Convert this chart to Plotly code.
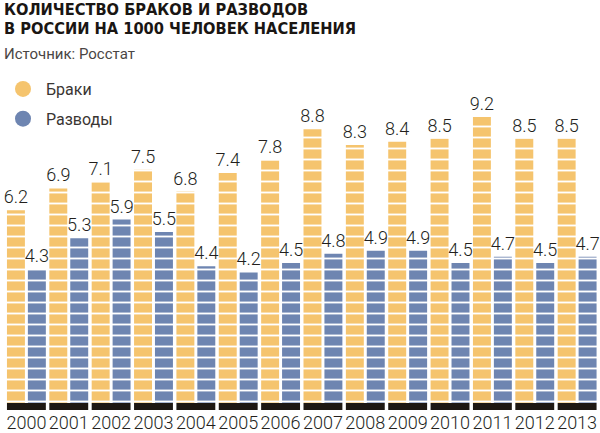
import plotly.graph_objects as go

YEARS = list(range(2000, 2014))
MARRIAGES = [6.2, 6.9, 7.1, 7.5, 6.8, 7.4, 7.8, 8.8, 8.3, 8.4, 8.5, 9.2, 8.5, 8.5]
DIVORCES = [4.3, 5.3, 5.9, 5.5, 4.4, 4.2, 4.5, 4.8, 4.9, 4.9, 4.5, 4.7, 4.5, 4.7]
SERIES_NAMES = ['Браки', 'Разводы']

ORANGE = '#F5C46E'
BLUE = '#6E85B1'
BASE_BLACK = '#1E1813'
TEXT = '#231F1C'
LABEL_FONT = 'Roboto'

BAR_W = 0.424
BASE_DEPTH = 0.225


def striped(color):
    return dict(color=color, line=dict(width=0),
                pattern=dict(shape='-', size=11, solidity=0.17,
                             fgcolor='white', bgcolor=color, fillmode='replace'))


fig = go.Figure()

# black plinth under each pair of bars
fig.add_trace(go.Bar(x=YEARS, y=[-BASE_DEPTH] * len(YEARS), base=0, width=0.918,
                     marker=dict(color=BASE_BLACK, line=dict(width=0)),
                     showlegend=False, hoverinfo='skip'))

for vals, col, off in [(MARRIAGES, ORANGE, -0.459), (DIVORCES, BLUE, 0.035)]:
    fig.add_trace(go.Bar(x=YEARS, y=vals, width=BAR_W, offset=off,
                         marker=striped(col), showlegend=False,
                         text=[f'{v:.1f}' for v in vals], textposition='outside',
                         constraintext='none',
                         textfont=dict(family=LABEL_FONT, size=18, color=TEXT, weight=300),
                         cliponaxis=False))

# legend entries with round markers
for name, col in zip(SERIES_NAMES, [ORANGE, BLUE]):
    fig.add_trace(go.Scatter(x=[None], y=[None], mode='markers', name=name, legendgroup=name,
                             marker=dict(color=col, size=17, symbol='circle')))

title_font = dict(family='DejaVu Sans Condensed', size=16.3, color='#1A1613')
fig.add_annotation(text='<b>КОЛИЧЕСТВО БРАКОВ И РАЗВОДОВ</b>', xref='paper', yref='paper',
                   x=0, y=1, xanchor='left', yanchor='top', yshift=2, showarrow=False,
                   font=title_font)
fig.add_annotation(text='<b>В РОССИИ НА 1000 ЧЕЛОВЕК НАСЕЛЕНИЯ</b>', xref='paper', yref='paper',
                   x=0, y=1, xanchor='left', yanchor='top', yshift=-17, showarrow=False,
                   font=title_font)
fig.add_annotation(text='Источник: Росстат', xref='paper', yref='paper',
                   x=0, y=1, xanchor='left', yanchor='top', yshift=-43, showarrow=False,
                   font=dict(family='Roboto', size=15, color='#4A4644'))

fig.update_layout(
    width=600, height=433,
    barmode='overlay',
    plot_bgcolor='white', paper_bgcolor='white',
    margin=dict(l=0, r=0, t=0, b=23, pad=0),
    showlegend=True,
    legend=dict(x=-0.004, y=1 - 72 / 410, xanchor='left', yanchor='top',
                font=dict(family='Roboto', size=16, color='#3A3633'),
                tracegroupgap=6, itemwidth=36, bgcolor='rgba(0,0,0,0)'),
)
fig.update_xaxes(range=[1999.424, 2013.54], tickvals=YEARS, ticktext=[str(y) for y in YEARS],
                 showgrid=False, zeroline=False, showline=False, ticks='',
                 tickangle=0, automargin=False,
                 tickfont=dict(family=LABEL_FONT, size=18, color=TEXT, weight=300))
fig.update_yaxes(range=[-BASE_DEPTH, 12.96], visible=False, showgrid=False, automargin=False)

fig.write_html('out.html', config={'displayModeBar': False},
               post_script="document.body.style.margin='0';")
